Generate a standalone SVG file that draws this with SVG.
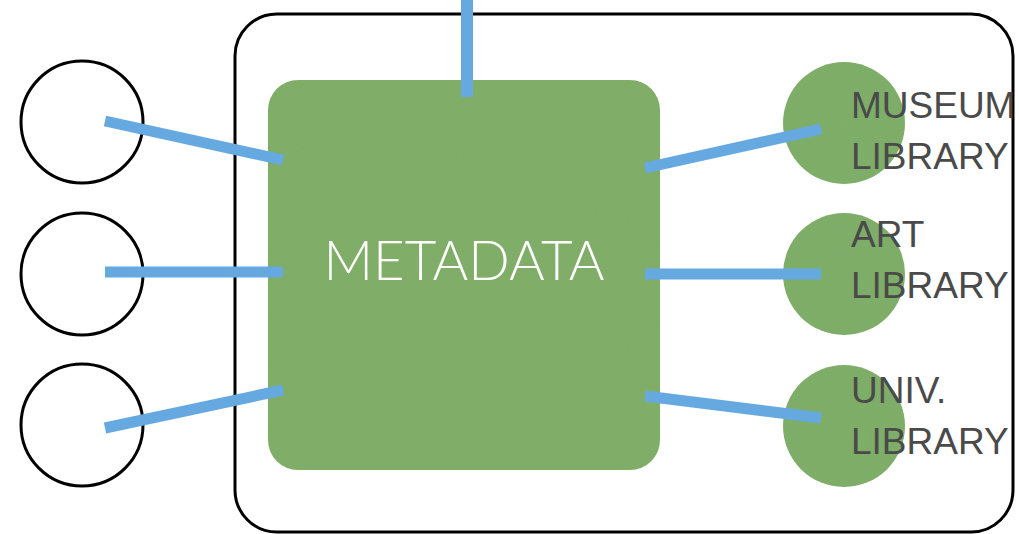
<svg xmlns="http://www.w3.org/2000/svg" width="1019" height="534" viewBox="0 0 1019 534">
<style>
.ring{fill:#fff;stroke:#000;stroke-width:3}
.lib{fill:#80b06a}
.conn{stroke:#65a9e0;stroke-width:11;stroke-linecap:butt;fill:none}
.lbl{font-family:"Liberation Sans",Arial,sans-serif;font-size:37px;fill:#4a4a4a}
.meta{font-family:Lato,"Open Sans",sans-serif;font-weight:300;font-size:56px;fill:#fff}
</style>
<defs>
<filter id="tex" x="0" y="0" width="1" height="1">
<feTurbulence type="fractalNoise" baseFrequency="0.9" numOctaves="2" seed="3" result="n"/>
<feColorMatrix in="n" type="matrix" values="0 0 0 0 0  0 0 0 0 0  0 0 0 0 0  0 0 0 0.06 0" result="d"/>
<feComposite in="d" in2="SourceGraphic" operator="in" result="dm"/>
<feMerge><feMergeNode in="SourceGraphic"/><feMergeNode in="dm"/></feMerge>
</filter>
</defs>
<rect width="1019" height="534" fill="#fff"/>
<g id="container">
<rect x="235" y="14" width="778" height="518" rx="42" ry="42" fill="none" stroke="#000" stroke-width="3"/>
</g>
<g id="source1"><circle class="ring" cx="82" cy="122" r="61"/></g>
<g id="source2"><circle class="ring" cx="82" cy="274" r="61"/></g>
<g id="source3"><circle class="ring" cx="82" cy="425" r="61"/></g>
<g id="metadata">
<rect x="268" y="80" width="392" height="390" rx="30" ry="30" fill="#82b06b" filter="url(#tex)"/>
<text class="meta" x="464" y="280" text-anchor="middle" textLength="281" lengthAdjust="spacingAndGlyphs">METADATA</text>
</g>
<g id="museum-library">
<circle class="lib" cx="844" cy="123" r="61" filter="url(#tex)"/>
</g>
<g id="art-library">
<circle class="lib" cx="844" cy="274" r="61" filter="url(#tex)"/>
</g>
<g id="univ-library">
<circle class="lib" cx="844" cy="426" r="61" filter="url(#tex)"/>
</g>
<g id="connectors">
<line class="conn" x1="467" y1="0" x2="467" y2="97" style="stroke-width:12"/>
<line class="conn" x1="105" y1="121" x2="283" y2="160"/>
<line class="conn" x1="105" y1="272" x2="283" y2="272"/>
<line class="conn" x1="105" y1="428" x2="283" y2="390"/>
<line class="conn" x1="645" y1="168" x2="821" y2="129"/>
<line class="conn" x1="645" y1="274" x2="821" y2="274"/>
<line class="conn" x1="645" y1="396" x2="821" y2="418"/>
</g>
<g id="labels">
<text class="lbl" x="851" y="118">MUSEUM</text>
<text class="lbl" x="851" y="169">LIBRARY</text>
<text class="lbl" x="851" y="247">ART</text>
<text class="lbl" x="851" y="298">LIBRARY</text>
<text class="lbl" x="851" y="403">UNIV.</text>
<text class="lbl" x="851" y="454">LIBRARY</text>
</g>
</svg>
